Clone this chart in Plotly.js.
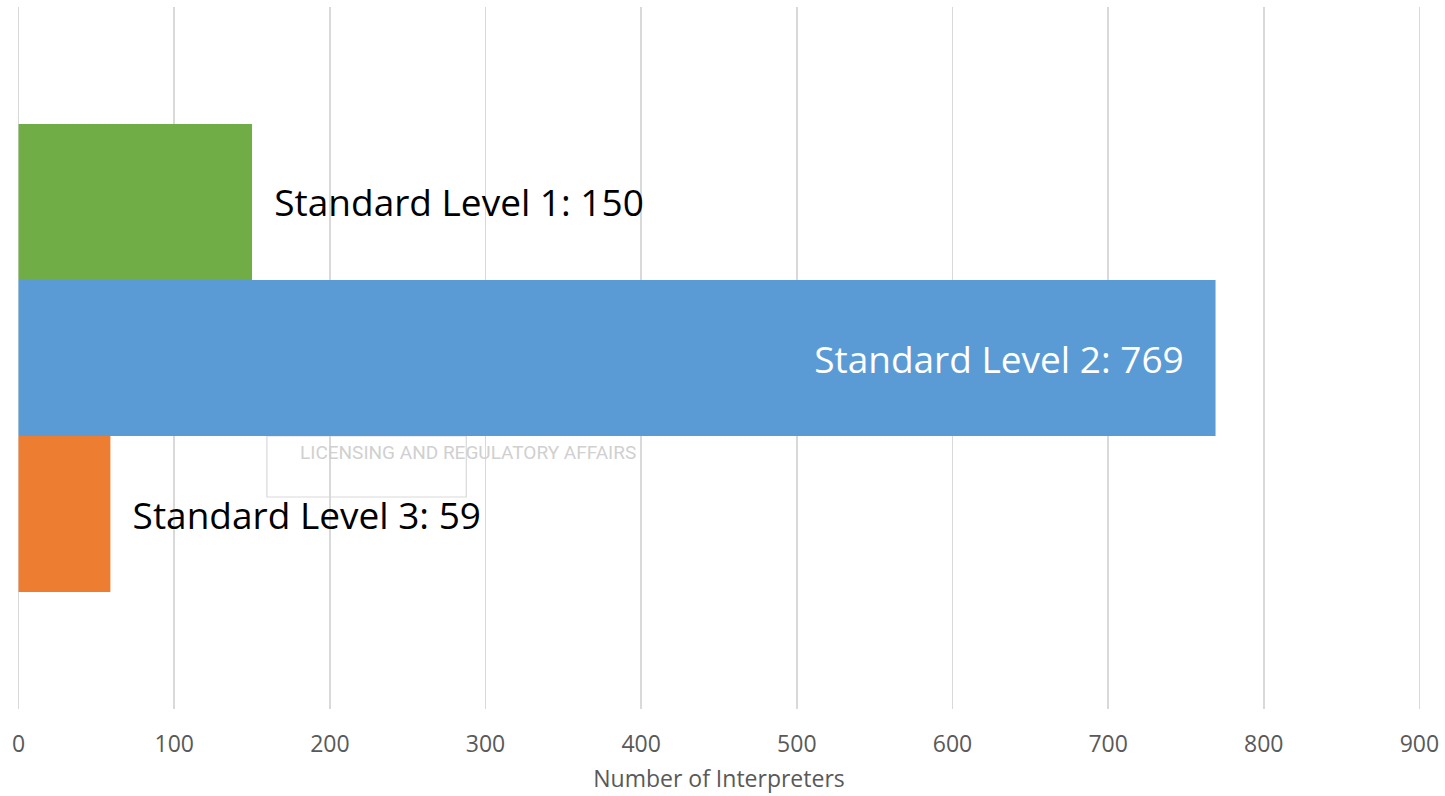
<!DOCTYPE html>
<html>
<head>
<meta charset="utf-8">
<script src="https://cdn.plot.ly/plotly-3.0.1.min.js"></script>
<style>
  html, body { margin: 0; padding: 0; background: #ffffff; }
  #chart { width: 1445px; height: 796px; }
</style>
</head>
<body>
<div id="chart"></div>
<script>
// ---- data ----
const category = ['Interpreters'];
const seriesNames = ['Standard Level 3', 'Standard Level 2', 'Standard Level 1'];
const seriesValues = [59, 769, 150];
const seriesColors = ['#ED7D31', '#5B9BD5', '#70AD47'];
const xTickValues = [0, 100, 200, 300, 400, 500, 600, 700, 800, 900];
const xAxisTitle = 'Number of Interpreters';
const watermarkText = 'LICENSING AND REGULATORY AFFAIRS';

const NB = '\u00a0';
const traces = seriesNames.map((name, i) => {
  const inside = seriesValues[i] > 400;
  return {
    type: 'bar',
    orientation: 'h',
    name: name,
    y: category,
    x: [seriesValues[i]],
    marker: { color: seriesColors[i], line: { width: 0 } },
    text: [inside ? (name + ': ' + seriesValues[i] + NB + NB + NB)
                  : (NB + NB + name + ': ' + seriesValues[i])],
    textposition: inside ? 'inside' : 'outside',
    insidetextanchor: 'end',
    constraintext: 'none',
    cliponaxis: false,
    textfont: { family: 'Open Sans, sans-serif', size: 37, color: inside ? '#ffffff' : '#000000' },
    hoverinfo: 'skip'
  };
});

const layout = {
  width: 1445,
  height: 796,
  margin: { l: 16.5, r: 23.5, t: 7, b: 87 },
  paper_bgcolor: '#ffffff',
  plot_bgcolor: '#ffffff',
  showlegend: false,
  barmode: 'group',
  bargap: 0.333,
  bargroupgap: 0,
  font: { family: 'Open Sans, sans-serif', color: '#595959' },
  xaxis: {
    range: [-1, 901],
    tickvals: xTickValues,
    ticktext: xTickValues.map(String),
    showgrid: true,
    gridcolor: '#D9D9D9',
    gridwidth: 1.5,
    zeroline: false,
    showline: false,
    ticks: '',
    ticklabelstandoff: 19,
    tickfont: { size: 23, color: '#595959' },
    title: { text: xAxisTitle, font: { size: 23, color: '#595959' }, standoff: 12 },
    fixedrange: true
  },
  yaxis: {
    showticklabels: false,
    showgrid: false,
    zeroline: false,
    showline: false,
    ticks: '',
    fixedrange: true
  },
  shapes: [{
    type: 'rect', xref: 'paper', yref: 'paper', layer: 'below',
    x0: 0.178, x1: 0.320, y0: 0.302, y1: 0.389,
    line: { color: '#D9D9D9', width: 1.2 }, fillcolor: 'rgba(0,0,0,0)'
  }],
  annotations: [{
    xref: 'paper', yref: 'paper', x: 0.321, y: 0.365,
    xanchor: 'center', yanchor: 'middle', showarrow: false,
    text: watermarkText,
    font: { family: 'Roboto, sans-serif', size: 19, color: '#D0D0D0' }
  }]
};

Plotly.newPlot('chart', traces, layout, { displayModeBar: false, staticPlot: true });
</script>
</body>
</html>
